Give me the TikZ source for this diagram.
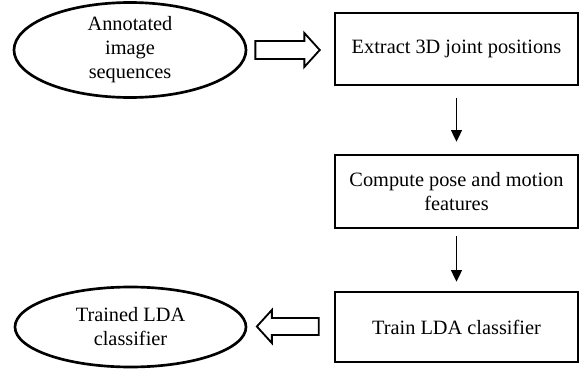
\documentclass[tikz,border=0pt]{standalone}
\usepackage{fontspec}
\setmainfont{Liberation Serif}
\usetikzlibrary{shapes.geometric,arrows.meta,calc}
\begin{document}
\begin{tikzpicture}[x=0.6pt,y=-0.6pt,
  font=\fontsize{12.2}{14.4}\selectfont,
  oval/.style={ellipse,draw,line width=1.6pt,inner sep=0pt,align=center},
  stepbox/.style={rectangle,draw,line width=1.5pt,inner sep=0pt,align=center,
    minimum width=243*0.6pt},
  flow/.style={line width=1.1pt,-{Triangle[width=6.5pt,length=7pt]}},
  blockarrow/.style={draw,line width=1.1pt,line join=miter,fill=white}]
\useasboundingbox (0,0) rectangle (587,380);
\node[oval,minimum width=232*0.6pt,minimum height=95*0.6pt] (e1) at (130,50)
  {Annotated\\image\\sequences};
\node[stepbox,minimum height=72*0.6pt] (b1) at (456.5,49) {Extract 3D joint positions};
\node[stepbox,minimum height=73*0.6pt] (b2) at (456.5,191.5) {Compute pose and motion\\features};
\node[stepbox,minimum height=70*0.6pt] (b3) at (456.5,327) {Train LDA classifier};
\node[oval,minimum width=231*0.6pt,minimum height=80*0.6pt] (e2) at (130.5,327)
  {Trained LDA\\classifier};
\draw[flow,shorten <=12*0.6pt,shorten >=12*0.6pt] (b1.south) -- (b2.north);
\draw[flow,shorten <=7*0.6pt,shorten >=9*0.6pt] (b2.south) -- (b3.north);
% block arrow e1 -> b1
\draw[blockarrow] ($(e1.east)+(8,-9)$) -- ($(e1.east)+(57,-9)$) -- ($(e1.east)+(57,-17)$)
  -- ($(b1.west)+(-14,1)$) -- ($(e1.east)+(57,17)$) -- ($(e1.east)+(57,9)$)
  -- ($(e1.east)+(8,9)$) -- cycle;
% block arrow b3 -> e2
\draw[blockarrow] ($(b3.west)+(-15,-9)$) -- ($(e2.east)+(24.5,-9)$) -- ($(e2.east)+(24.5,-17)$)
  -- ($(e2.east)+(9.5,-0.5)$) -- ($(e2.east)+(24.5,16)$) -- ($(e2.east)+(24.5,8)$)
  -- ($(b3.west)+(-15,8)$) -- cycle;
\end{tikzpicture}
\end{document}
